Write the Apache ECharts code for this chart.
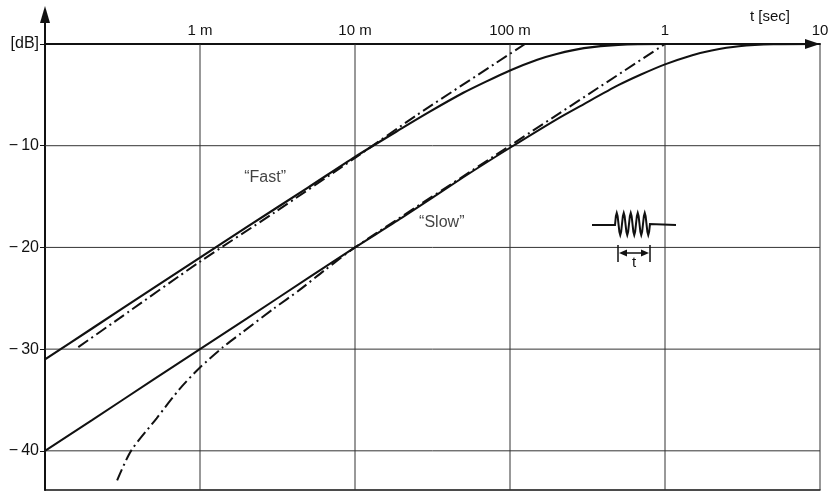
<!DOCTYPE html>
<html><head><meta charset="utf-8">
<script src="https://cdn.jsdelivr.net/npm/echarts@6/dist/echarts.min.js"></script>
<style>html,body{margin:0;padding:0;background:#fff}#c{width:829px;height:492px}</style>
</head><body><div id="c"></div>
<script>
// ---- data ----
const xTickValues = [1e-4, 1e-3, 1e-2, 1e-1, 1, 10];
const xTickLabels = ['', '1 m', '10 m', '100 m', '1', '10'];
const yTickValues = [0, -10, -20, -30, -40];
const yTickLabels = ['[dB]', '\u2212\u200910', '\u2212\u200920', '\u2212\u200930', '\u2212\u200940'];

// "Fast" response (solid)
const fastT  = [1e-4, 2e-4, 5e-4, 1e-3, 2e-3, 5e-3, 1e-2, 2e-2, 3e-2, 5e-2, 7e-2, 0.1, 0.15, 0.2, 0.3, 0.5, 1, 10];
const fastDb = [-31.0, -28.0, -24.0, -21.0, -18.0, -14.1, -11.1, -8.3, -6.7, -4.8, -3.7, -2.6, -1.55, -0.98, -0.41, -0.08, 0, 0];
// "Slow" response (solid)
const slowT  = [1e-4, 2e-4, 5e-4, 1e-3, 2e-3, 5e-3, 1e-2, 2e-2, 5e-2, 0.1, 0.2, 0.3, 0.5, 0.7, 1, 1.5, 2, 3, 5, 10];
const slowDb = [-40.0, -37.0, -33.0, -30.0, -27.0, -23.0, -20.0, -17.1, -13.1, -10.2, -7.4, -5.9, -4.05, -3.0, -2.0, -1.1, -0.63, -0.22, -0.03, 0];
// "Fast" dash-dot
const fastDdT  = [1.64e-4, 3e-4, 1e-3, 3e-3, 1e-2, 2.5e-2, 0.125];
const fastDdDb = [-29.8, -27.0, -21.4, -16.6, -11.2, -7.0, 0];
// "Slow" dash-dot
const slowDdT  = [2.92e-4, 3.59e-4, 5.25e-4, 7.4e-4, 1e-3, 1.41e-3, 1.82e-3, 3e-3, 4.37e-3, 6.3e-3, 1e-2, 0.1, 1];
const slowDdDb = [-42.9, -40.0, -36.8, -33.9, -31.8, -29.8, -28.5, -26.0, -24.2, -22.3, -20.0, -10.0, 0];

const noteT  = [0.00263, 0.0363];
const noteDb = [-13.1, -17.6];
const noteText = ['\u201CFast\u201D', '\u201CSlow\u201D'];

// ---- chart ----
const Y_MIN = -43.85, Y_MAX = 0, X_MIN = 1e-4, X_MAX = 10;
const FONT = 'Liberation Sans';
const INK = '#111';
const zip = (a, b) => a.map((v, i) => [v, b[i]]);

const series = [];
// vertical grid lines
xTickValues.slice(1).forEach(v => series.push({
  type: 'line', data: [[v, Y_MIN], [v, Y_MAX]], symbol: 'none', silent: true, z: 1,
  lineStyle: { color: '#333', width: 1 }
}));
// horizontal grid lines
yTickValues.slice(1).forEach(v => series.push({
  type: 'line', data: [[X_MIN, v], [X_MAX, v]], symbol: 'none', silent: true, z: 1,
  lineStyle: { color: '#333', width: 1 }
}));
const curve = (t, db, type, w) => ({
  type: 'line', data: zip(t, db), symbol: 'none', smooth: 0.25, z: 3,
  lineStyle: { color: INK, width: w, type: type }
});
series.push(curve(fastT, fastDb, 'solid', 2.2));
series.push(curve(slowT, slowDb, 'solid', 2));
series.push(curve(fastDdT, fastDdDb, [12, 4, 2, 4], 2));
series.push(curve(slowDdT, slowDdDb, [12, 4, 2, 4], 2));
series.push({
  type: 'scatter', symbolSize: 0, silent: true,
  data: noteT.map((t, i) => ({ value: [t, noteDb[i]], name: noteText[i] })),
  label: { show: true, position: 'inside', formatter: p => p.name,
           fontFamily: FONT, fontSize: 16, color: INK }
});

// tone-burst pictogram
const burst = [[592, 225], [615, 225]];
for (let i = 1; i <= 40; i++) burst.push([615 + 35 * i / 40, 224 - 11 * Math.sin(2 * Math.PI * 5 * i / 40)]);
burst.push([676, 225]);

const chart = echarts.init(document.getElementById('c'), null, { renderer: 'canvas' });
chart.setOption({
  backgroundColor: '#fff',
  animation: false,
  grid: { left: 45, right: 9, top: 44, bottom: 2, containLabel: false, outerBoundsMode: 'none' },
  xAxis: [{
    type: 'log', logBase: 10, min: X_MIN, max: X_MAX, position: 'top',
    axisLine: { show: true, onZero: false, symbol: ['none', 'triangle'], symbolSize: [10, 15], symbolOffset: [0, -7.5],
                lineStyle: { color: INK, width: 2 } },
    axisTick: { show: false },
    splitLine: { show: false },
    minorTick: { show: false },
    axisLabel: { show: true, margin: 6, fontFamily: FONT, fontSize: 15, color: INK,
                 formatter: v => { const i = xTickValues.findIndex(t => Math.abs(Math.log10(t) - Math.log10(v)) < 1e-6); return i >= 0 ? xTickLabels[i] : ''; } },
    name: 't [sec]', nameLocation: 'end', nameGap: -30,
    nameTextStyle: { fontFamily: FONT, fontSize: 15, color: INK, align: 'right', verticalAlign: 'bottom', padding: [0, 0, 20, 0] }
  }, {
    type: 'log', logBase: 10, min: X_MIN, max: X_MAX, position: 'bottom',
    axisLine: { show: true, onZero: false, lineStyle: { color: INK, width: 1.5 } },
    axisTick: { show: false }, axisLabel: { show: false }, splitLine: { show: false }
  }],
  yAxis: {
    type: 'value', min: Y_MIN, max: Y_MAX, position: 'left',
    axisLine: { show: true, onZero: false, symbol: ['none', 'triangle'], symbolSize: [10, 17], symbolOffset: [0, 29.5],
                lineStyle: { color: INK, width: 2 } },
    axisTick: { show: true, customValues: yTickValues, length: 5, lineStyle: { color: INK, width: 1 } },
    axisLabel: { show: true, customValues: yTickValues, margin: 6, fontFamily: FONT, fontSize: 16, color: INK,
                 formatter: v => { const i = yTickValues.findIndex(t => Math.abs(t - v) < 1e-6); return i >= 0 ? yTickLabels[i] : ''; } },
    splitLine: { show: false }
  },
  series: series,
  graphic: [
    // continuation of the dB axis above 0 dB up to its arrow
    { type: 'line', shape: { x1: 45, y1: 44, x2: 45, y2: 16 }, style: { stroke: INK, lineWidth: 2 }, z: 10 },
    { type: 'polyline', shape: { points: burst }, style: { stroke: INK, lineWidth: 2, fill: null }, z: 10 },
    { type: 'line', shape: { x1: 618, y1: 245, x2: 618, y2: 262 }, style: { stroke: INK, lineWidth: 1.5 }, z: 10 },
    { type: 'line', shape: { x1: 650, y1: 245, x2: 650, y2: 262 }, style: { stroke: INK, lineWidth: 1.5 }, z: 10 },
    { type: 'line', shape: { x1: 622, y1: 253, x2: 646, y2: 253 }, style: { stroke: INK, lineWidth: 1.5 }, z: 10 },
    { type: 'polygon', shape: { points: [[619, 253], [627, 249.5], [627, 256.5]] }, style: { fill: INK }, z: 10 },
    { type: 'polygon', shape: { points: [[649, 253], [641, 249.5], [641, 256.5]] }, style: { fill: INK }, z: 10 },
    { type: 'text', x: 634, y: 263, style: { text: 't', fontFamily: FONT, fontSize: 15, fill: INK, align: 'center', verticalAlign: 'middle' }, z: 10 }
  ]
});
</script></body></html>
